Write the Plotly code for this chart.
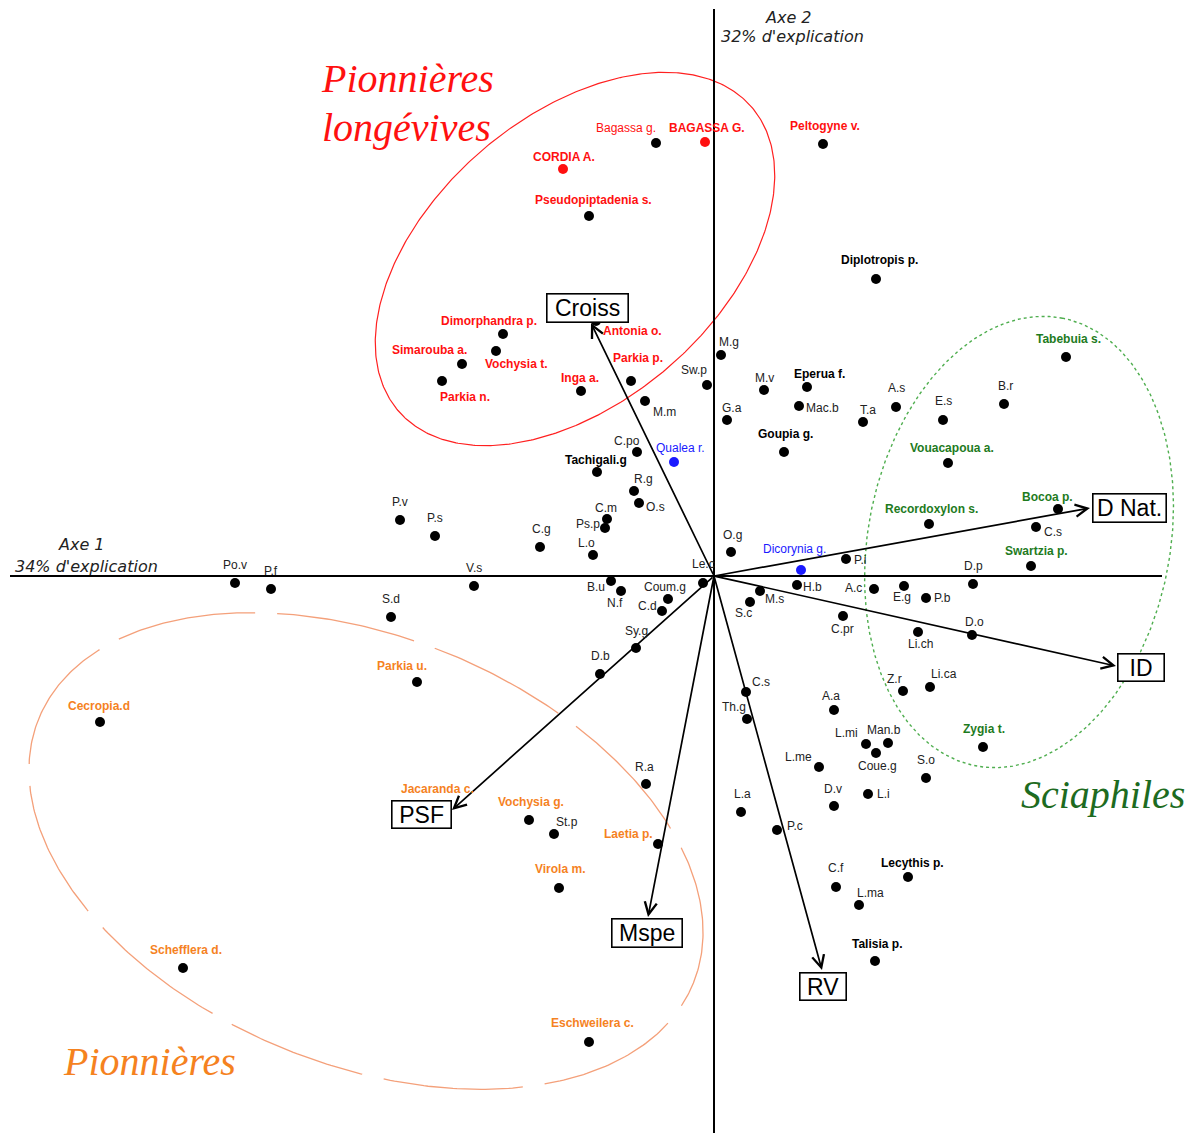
import numpy as np
import plotly.graph_objects as go

# ---------------- data (PCA scores, axis 1 / axis 2) ----------------
lon_names = ["Bagassa g.", "BAGASSA G.", "CORDIA A.", "Pseudopiptadenia s.", "Peltogyne v.",
             "Dimorphandra p.", "Antonia o.", "Simarouba a.", "Vochysia t.", "Parkia n.",
             "Inga a.", "Parkia p."]
lon_x = [-0.58, -0.09, -1.51, -1.25, 1.09, -2.11, -1.18, -2.52, -2.18, -2.72, -1.33, -0.83]
lon_y = [4.33, 4.34, 4.07, 3.60, 4.32, 2.42, 2.55, 2.12, 2.25, 1.95, 1.85, 1.95]

bold_names = ["Diplotropis p.", "Eperua f.", "Goupia g.", "Tachigali.g", "Lecythis p.", "Talisia p."]
bold_x = [1.62, 0.93, 0.70, -1.17, 1.94, 1.61]
bold_y = [2.97, 1.89, 1.24, 1.04, -3.01, -3.85]

blue_names = ["Qualea r.", "Dicorynia g."]
blue_x = [-0.40, 0.87]
blue_y = [1.14, 0.06]

sci_names = ["Tabebuia s.", "Vouacapoua a.", "Recordoxylon s.", "Bocoa p.", "Swartzia p.", "Zygia t."]
sci_x = [3.52, 2.34, 2.15, 3.44, 3.17, 2.69]
sci_y = [2.19, 1.13, 0.52, 0.67, 0.10, -1.71]

pio_names = ["Parkia u.", "Cecropia.d", "Jacaranda c.", "Vochysia g.", "Laetia p.", "Virola m.",
             "Schefflera d.", "Eschweilera c."]
pio_x = [-2.97, -6.14, -2.70, -1.85, -0.56, -1.55, -5.31, -1.25]
pio_y = [-1.06, -1.46, -2.34, -2.44, -2.68, -3.12, -3.92, -4.66]

oth_names = ["M.g", "Sw.p", "M.m", "M.v", "Mac.b", "G.a", "T.a", "A.s", "B.r", "E.s",
             "C.po", "R.g", "O.s", "C.m", "Ps.p", "C.g", "L.o", "P.v", "P.s", "Po.v",
             "P.f", "V.s", "S.d", "Le.c", "O.g", "B.u", "N.f", "Coum.g", "C.d", "Sy.g",
             "D.b", "P.i", "H.b", "M.s", "S.c", "A.c", "E.g", "P.b", "D.p", "C.pr",
             "Li.ch", "D.o", "C.s", "Z.r", "Li.ca", "C.s", "Th.g", "A.a", "L.mi", "Man.b",
             "Coue.g", "L.me", "S.o", "D.v", "L.i", "L.a", "P.c", "C.f", "L.ma", "R.a", "St.p"]
oth_x = [0.07, -0.07, -0.69, 0.50, 0.85, 0.13, 1.49, 1.82, 2.90, 2.29,
         -0.77, -0.80, -0.75, -1.07, -1.09, -1.74, -1.21, -3.14, -2.79, -4.79,
         -4.43, -2.40, -3.23, -0.11, 0.17, -1.03, -0.93, -0.46, -0.52, -0.78,
         -1.14, 1.32, 0.83, 0.46, 0.36, 1.60, 1.90, 2.12, 2.59, 1.29,
         2.04, 2.58, 3.22, 1.89, 2.16, 0.32, 0.33, 1.20, 1.52, 1.74,
         1.62, 1.05, 2.12, 1.20, 1.54, 0.27, 0.63, 1.22, 1.45, -0.68, -1.60]
oth_y = [2.21, 1.91, 1.75, 1.86, 1.70, 1.56, 1.54, 1.69, 1.72, 1.56,
         1.24, 0.85, 0.73, 0.57, 0.48, 0.29, 0.21, 0.56, 0.40, -0.07,
         -0.13, -0.10, -0.41, -0.07, 0.24, -0.05, -0.15, -0.23, -0.35, -0.72,
         -0.98, 0.17, -0.09, -0.15, -0.26, -0.13, -0.10, -0.22, -0.08, -0.40,
         -0.56, -0.59, 0.49, -1.15, -1.11, -1.16, -1.43, -1.34, -1.68, -1.67,
         -1.77, -1.91, -2.02, -2.30, -2.18, -2.36, -2.54, -3.11, -3.29, -2.08, -2.58]

var_names = ["Croiss", "D Nat.", "ID", "RV", "Mspe", "PSF"]
var_x = [-1.23, 3.76, 4.02, 1.08, -0.66, -2.62]
var_y = [2.53, 0.68, -0.90, -3.94, -3.41, -2.34]

# ---------------- styling / label placement (pixels) ----------------
RED, ORANGE, GREEN, BLUE = "#ff1010", "#f5821f", "#1e7b1e", "#1a1aff"
lon_off = [(-30, -15), (2, -14), (1, -12), (4, -16), (2, -18), (-14, -13), (36, 10),
           (-33, -14), (20, 13), (23, 16), (-1, -13), (7, -23)]
lon_dot = ["black", RED, RED] + ["black"] * 9
lon_bold = [False] + [True] * 11
bold_off = [(3, -19), (12, -13), (1, -18), (-1, -12), (4, -14), (2, -17)]
blue_off = [(6, -14), (-7, -21)]
sci_off = [(2, -18), (4, -15), (2, -15), (-11, -12), (5, -15), (1, -18)]
pio_off = [(-15, -16), (-1, -16), (-7, -21), (2, -18), (-30, -10), (1, -19), (3, -18), (3, -19)]
oth_off = [(8, -13), (-13, -15), (19, 11), (0, -12), (23, 2), (5, -12), (5, -12), (0, -19), (1, -18), (0, -19),
           (-10, -11), (9, -12), (16, 4), (-1, -11), (-17, -4), (1, -18), (-7, -12), (0, -18), (0, -18), (0, -18),
           (0, -18), (0, -18), (0, -18), (0, -19), (1, -17), (-15, 6), (-6, 12), (-3, -12), (-15, -5), (0, -17),
           (0, -18), (14, 1), (15, 2), (14, 8), (-7, 11), (-21, -1), (-2, 11), (16, 0), (0, -18), (-1, 13),
           (2, 12), (2, -13), (17, 5), (-9, -12), (14, -13), (15, -10), (-13, -12), (-3, -14), (-20, -11), (-4, -13),
           (1, 13), (-21, -10), (0, -18), (-1, -17), (15, 0), (1, -18), (18, -4), (0, -19), (11, -12), (-2, -17), (13, -12)]
var_off = [(-4, -15), (39, 0), (25, 1), (1, 16), (-1, 16), (-31, 4)]
var_box = [(80, 27), (72, 27), (45, 26), (45, 26), (69, 27), (58, 26)]

W, H = 1192, 1133
X_RANGE = [-7.14, 4.78]
Y_RANGE = [-5.57, 5.76]
LABEL_FONT = "Liberation Sans, Arial, sans-serif"

fig = go.Figure()

# ---------- group ellipses ----------
def ellipse(cx, cy, a, b, theta_deg, n=500):
    t = np.linspace(0, 2 * np.pi, n)
    th = np.deg2rad(theta_deg)
    ex = cx + a * np.cos(t) * np.cos(th) - b * np.sin(t) * np.sin(th)
    ey = cy + a * np.cos(t) * np.sin(th) + b * np.sin(t) * np.cos(th)
    return ex, ey

for (cx, cy, a, b, th), col, dash, wid in [
    ((-1.39, 3.17, 2.33, 1.43, 40.7), "#ff2020", "solid", 1.2),
    ((3.05, 0.34, 2.28, 1.51, 79.0), "#4fae4f", "dot", 1.4),
    ((-3.48, -2.75, 3.53, 2.14, -21.95), "#f4a07a", "140px,22px", 1.3),
]:
    ex, ey = ellipse(cx, cy, a, b, th)
    fig.add_trace(go.Scatter(x=ex, y=ey, mode="lines", hoverinfo="skip",
                             line=dict(color=col, width=wid, dash=dash), showlegend=False))

# ---------- axes ----------
fig.add_shape(type="line", x0=-7.04, x1=4.48, y0=0, y1=0, line=dict(color="black", width=2))
fig.add_shape(type="line", x0=0, x1=0, y0=5.67, y1=-5.6, line=dict(color="black", width=2))

# ---------- variable arrows ----------
for nm, vx, vy, (dx, dy), (bw, bh) in zip(var_names, var_x, var_y, var_off, var_box):
    fig.add_annotation(x=vx, y=vy, ax=0, ay=0, xref="x", yref="y", axref="x", ayref="y",
                       text="", showarrow=True, arrowhead=5, arrowsize=1.4, arrowwidth=1.7,
                       arrowcolor="black", standoff=0, startstandoff=0)
    fig.add_annotation(x=vx, y=vy, xref="x", yref="y", text=nm, showarrow=False,
                       xshift=dx, yshift=-dy, xanchor="center", yanchor="middle",
                       width=bw, height=bh, align="center", valign="middle",
                       font=dict(family=LABEL_FONT, size=23, color="black"),
                       bgcolor="white", bordercolor="black", borderwidth=1.6, borderpad=0)

# ---------- species points ----------
groups = [
    (lon_names, lon_x, lon_y, lon_off, lon_dot, [RED] * len(lon_names), lon_bold),
    (bold_names, bold_x, bold_y, bold_off, ["black"] * 6, ["black"] * 6, [True] * 6),
    (blue_names, blue_x, blue_y, blue_off, [BLUE] * 2, [BLUE] * 2, [False] * 2),
    (sci_names, sci_x, sci_y, sci_off, ["black"] * 6, [GREEN] * 6, [True] * 6),
    (pio_names, pio_x, pio_y, pio_off, ["black"] * 8, [ORANGE] * 8, [True] * 8),
    (oth_names, oth_x, oth_y, oth_off, ["black"] * len(oth_names), ["#222222"] * len(oth_names),
     [False] * len(oth_names)),
]
for names, xs, ys, offs, dots, tcols, bolds in groups:
    fig.add_trace(go.Scatter(x=xs, y=ys, mode="markers", text=names, hoverinfo="text",
                             marker=dict(size=10, color=dots), showlegend=False))
    for nm, px, py, (dx, dy), tc, bd in zip(names, xs, ys, offs, tcols, bolds):
        fig.add_annotation(x=px, y=py, xref="x", yref="y",
                           text=f"<b>{nm}</b>" if bd else nm, showarrow=False,
                           xshift=dx, yshift=-dy, xanchor="center", yanchor="middle",
                           font=dict(family=LABEL_FONT, size=12, color=tc))

# ---------- titles / axis captions ----------
def paper(px, py):
    return px / W, 1 - py / H

SERIF = "Liberation Serif, Times New Roman, serif"
for txt, (px, py), col in [("Pionnières", (407, 79), RED), ("longévives", (406, 128), RED),
                           ("Sciaphiles", (1103, 794), "#1d6b21"),
                           ("Pionnières", (149, 1061), ORANGE)]:
    xx, yy = paper(px, py)
    fig.add_annotation(x=xx, y=yy, xref="paper", yref="paper", text=f"<i>{txt}</i>",
                       showarrow=False, xanchor="center", yanchor="middle",
                       font=dict(family=SERIF, size=40, color=col))

SANS = "DejaVu Sans, Verdana, sans-serif"
for txt, (px, py) in [("Axe 2", (788, 17)), ("32% d'explication", (792, 37)),
                      ("Axe 1", (81, 545)), ("34% d'explication", (86, 566))]:
    xx, yy = paper(px, py)
    fig.add_annotation(x=xx, y=yy, xref="paper", yref="paper", text=f"<i>{txt}</i>",
                       showarrow=False, xanchor="center", yanchor="middle",
                       font=dict(family=SANS, size=16, color="#222222"))

fig.update_layout(
    width=W, height=H, margin=dict(l=0, r=0, t=0, b=0),
    paper_bgcolor="white", plot_bgcolor="white",
    xaxis=dict(range=X_RANGE, visible=False, fixedrange=True),
    yaxis=dict(range=Y_RANGE, visible=False, fixedrange=True),
    showlegend=False,
)
fig.write_html("out.html", config={"displayModeBar": False},
               post_script="document.body.style.margin='0';document.body.style.overflow='hidden';")
